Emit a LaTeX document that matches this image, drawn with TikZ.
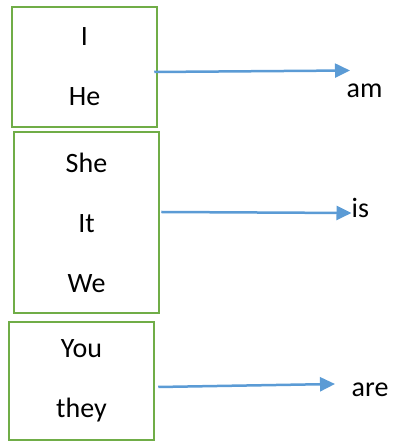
\documentclass[tikz,border=0pt]{standalone}
\usepackage{fontspec}
\setmainfont{Carlito}
\usetikzlibrary{arrows.meta}
\definecolor{boxgreen}{HTML}{70AD47}
\definecolor{arrowblue}{HTML}{5B9BD5}
\begin{document}
\begin{tikzpicture}[x=1pt,y=1pt]
\tikzstyle{pbox} = [rectangle, draw=boxgreen, line width=2.5pt, minimum width=145pt, align=center, font=\fontsize{28}{60}\selectfont]
\tikzstyle{verb} = [inner sep=0pt, anchor=base west, font=\fontsize{28}{34}\selectfont]
\tikzstyle{arrow} = [line width=2.5pt, arrowblue, -{Triangle[length=15pt,width=14pt]}]

\useasboundingbox (0,0) rectangle (395,441);

%nodes
\node (first) [pbox, minimum height=120pt] at (84.5,374) {I\\He};
\node (second) [pbox, minimum height=181pt] at (86.5,218.5) {She\\It\\We};
\node (third) [pbox, minimum height=118pt] at (81.5,60) {You\\they};
\node (am) [verb] at (346.5,343) {am};
\node (is) [verb] at (351.5,223) {is};
\node (are) [verb] at (351.5,44) {are};

%arrows
\draw [arrow] ([xshift=-4pt,yshift=-5pt]first.east) -- ([xshift=3.5pt,yshift=27.5pt]am.base west);
\draw [arrow] ([xshift=1pt,yshift=10.5pt]second.east) -- ([xshift=0pt,yshift=5pt]is.base west);
\draw [arrow] ([xshift=3pt,yshift=-6pt]third.east) -- ([xshift=-16.5pt,yshift=13pt]are.base west);
\end{tikzpicture}
\end{document}
